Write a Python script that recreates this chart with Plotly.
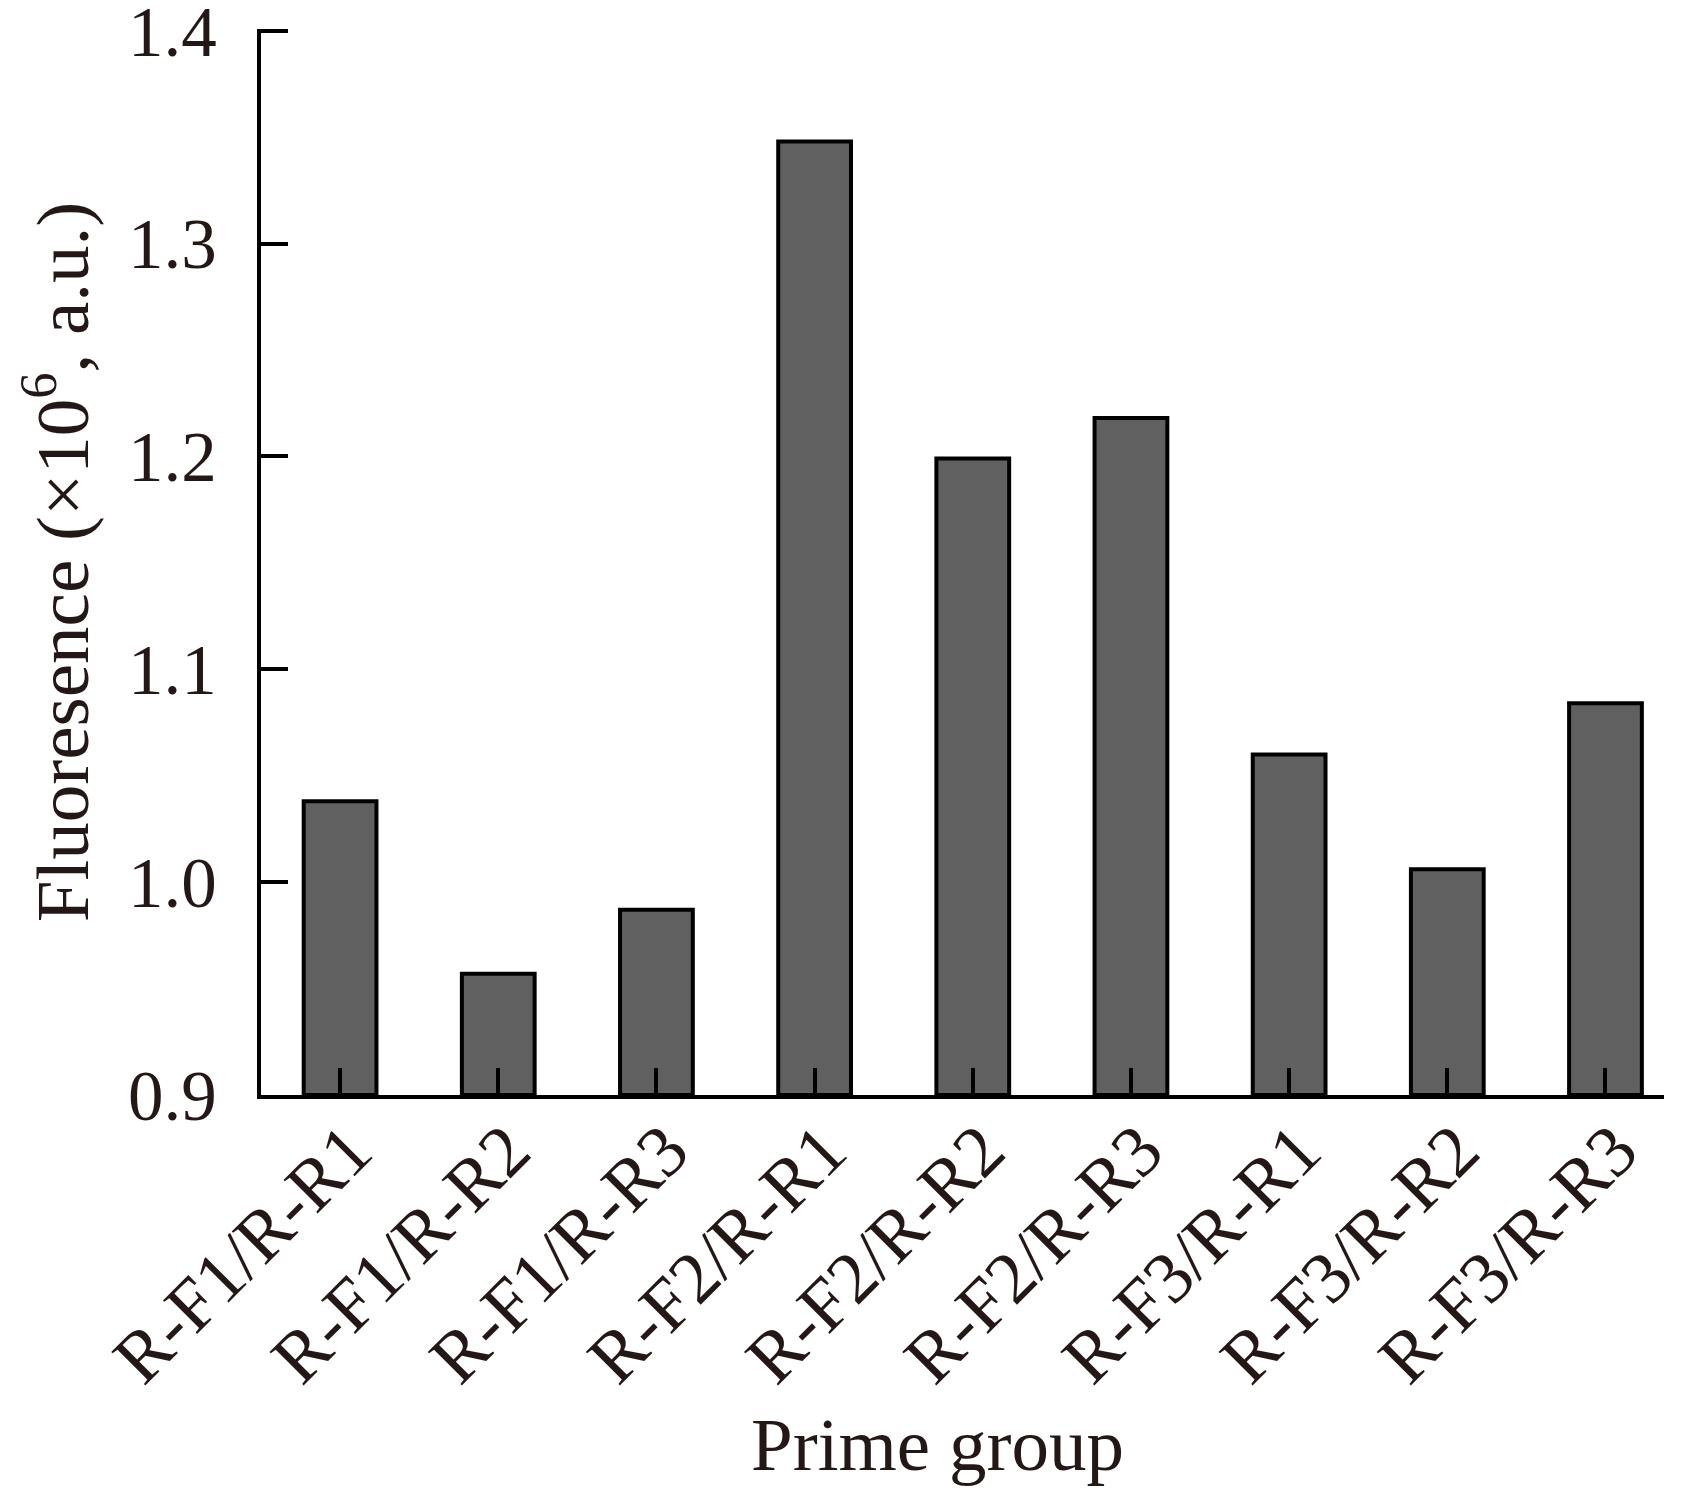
import plotly.graph_objects as go

categories = ["R-F1/R-R1", "R-F1/R-R2", "R-F1/R-R3",
              "R-F2/R-R1", "R-F2/R-R2", "R-F2/R-R3",
              "R-F3/R-R1", "R-F3/R-R2", "R-F3/R-R3"]
fluorescence = [1.038, 0.957, 0.987, 1.348, 1.199, 1.218, 1.060, 1.006, 1.084]
y_ticks = [0.9, 1.0, 1.1, 1.2, 1.3, 1.4]
y_ticklabels = ["0.9", "1.0", "1.1", "1.2", "1.3", "1.4"]

txt = "#231815"
font_family = "Liberation Serif, Times New Roman, serif"

fig = go.Figure()
fig.add_trace(go.Bar(
    x=list(range(len(categories))),
    y=[v - 0.9 for v in fluorescence],
    base=0.9,
    width=0.46,
    marker=dict(color="#606060", line=dict(color="#000000", width=4)),
    hoverinfo="skip",
))

fig.update_layout(
    width=1688, height=1494,
    margin=dict(l=253, r=32, t=21, b=407),
    paper_bgcolor="white", plot_bgcolor="white",
    showlegend=False,
    font=dict(family=font_family, color=txt, size=70),
    xaxis=dict(
        range=[-0.5, 8.37],
        tickmode="array",
        tickvals=list(range(len(categories))),
        ticktext=categories,
        tickangle=-45,
        ticks="inside", ticklen=27, tickwidth=3.5, tickcolor="#000000",
        showline=True, linecolor="#000000", linewidth=4,
        showgrid=False, zeroline=False,
        ticklabelstandoff=-21,
        ticklabelshift=10,
        ticklabeloverflow="allow",
        automargin=False,
        tickfont=dict(size=73, color=txt, family=font_family),
    ),
    yaxis=dict(
        range=[0.9, 1.4008],
        tickmode="array",
        tickvals=y_ticks,
        ticktext=y_ticklabels,
        ticks="inside", ticklen=27, tickwidth=3.5, tickcolor="#000000",
        showline=True, linecolor="#000000", linewidth=4,
        showgrid=False, zeroline=False,
        ticklabelstandoff=26,
        ticklabeloverflow="allow",
        automargin=False,
        tickfont=dict(size=71, color=txt, family=font_family),
        title=dict(text="Fluoresence (×10<sup>6</sup>, a.u.)",
                   font=dict(size=75, color=txt, family=font_family),
                   standoff=16),
    ),
)

fig.add_annotation(
    text="Prime group", xref="paper", yref="paper",
    x=0.4825, y=-0.328, xanchor="center", yanchor="middle",
    showarrow=False,
    font=dict(size=75, color=txt, family=font_family),
)

fig.write_html("out.html")
